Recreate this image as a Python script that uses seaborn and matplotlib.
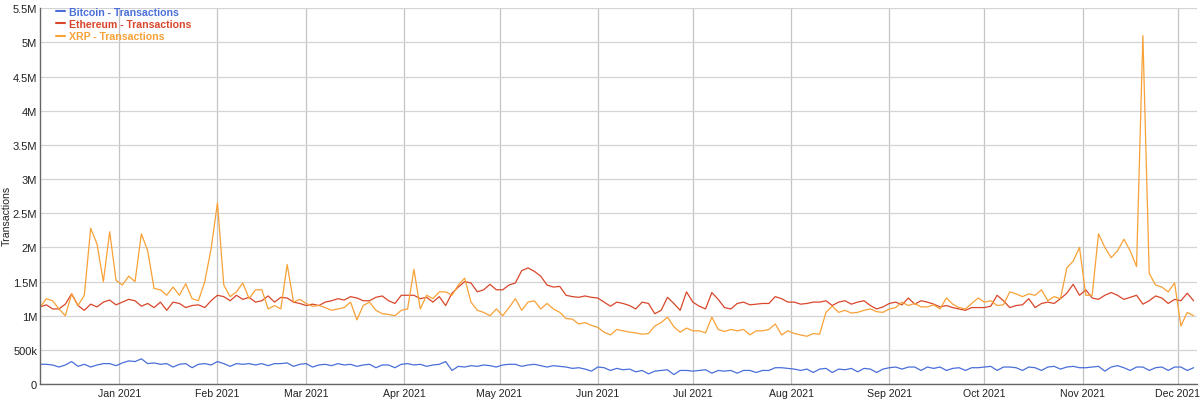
import pandas as pd
import seaborn as sns
import matplotlib.pyplot as plt
import matplotlib.dates as mdates
from matplotlib.ticker import FuncFormatter

# samples every 2 days, 2020-12-07 .. 2021-12-06 (values in millions)
dates = pd.date_range("2020-12-07", "2021-12-06", freq="2D")

btc = [
    0.29, 0.29, 0.28, 0.25, 0.28, 0.33, 0.26, 0.29, 0.25, 0.28, 0.30, 0.30, 0.27,  # Dec
    0.31, 0.34, 0.33, 0.37, 0.30, 0.31, 0.29, 0.30, 0.25, 0.29, 0.30, 0.24, 0.29, 0.30, 0.28,  # Jan
    0.33, 0.30, 0.26, 0.30, 0.29, 0.30, 0.28, 0.30, 0.27, 0.30, 0.30, 0.31, 0.26, 0.29,  # Feb
    0.30, 0.25, 0.28, 0.29, 0.27, 0.30, 0.28, 0.29, 0.26, 0.28, 0.29, 0.24, 0.28, 0.28, 0.24, 0.29,  # Mar
    0.30, 0.28, 0.29, 0.26, 0.28, 0.29, 0.33, 0.20, 0.26, 0.25, 0.27, 0.26, 0.28, 0.27, 0.25,  # Apr
    0.28, 0.29, 0.29, 0.26, 0.28, 0.29, 0.27, 0.25, 0.27, 0.26, 0.25, 0.23, 0.24, 0.22, 0.19,  # May
    0.25, 0.24, 0.20, 0.23, 0.21, 0.22, 0.18, 0.20, 0.15, 0.19, 0.20, 0.21, 0.14, 0.20, 0.20,  # Jun
    0.19, 0.20, 0.21, 0.16, 0.20, 0.19, 0.20, 0.16, 0.20, 0.20, 0.17, 0.20, 0.20, 0.24, 0.24, 0.23,  # Jul
    0.22, 0.20, 0.22, 0.17, 0.22, 0.23, 0.17, 0.22, 0.21, 0.23, 0.18, 0.23, 0.22, 0.17, 0.22,  # Aug
    0.24, 0.25, 0.22, 0.25, 0.25, 0.20, 0.25, 0.23, 0.25, 0.20, 0.23, 0.24, 0.20, 0.24, 0.24,  # Sep
    0.25, 0.26, 0.20, 0.25, 0.25, 0.24, 0.20, 0.25, 0.24, 0.20, 0.25, 0.26, 0.22, 0.25, 0.26, 0.24,  # Oct
    0.24, 0.25, 0.26, 0.19, 0.25, 0.27, 0.24, 0.20, 0.25, 0.25, 0.20, 0.24, 0.25, 0.20, 0.25,  # Nov
    0.25, 0.20, 0.24,  # Dec
]

eth = [
    1.13, 1.16, 1.10, 1.10, 1.17, 1.32, 1.15, 1.08, 1.17, 1.13, 1.20, 1.23, 1.16,
    1.20, 1.24, 1.22, 1.14, 1.18, 1.12, 1.20, 1.08, 1.20, 1.18, 1.12, 1.15, 1.16, 1.12, 1.22,
    1.30, 1.28, 1.22, 1.30, 1.24, 1.27, 1.20, 1.22, 1.29, 1.20, 1.27, 1.26, 1.20, 1.18,
    1.15, 1.17, 1.15, 1.20, 1.22, 1.25, 1.23, 1.28, 1.26, 1.22, 1.22, 1.27, 1.29, 1.22, 1.18, 1.30,
    1.30, 1.30, 1.25, 1.27, 1.20, 1.28, 1.15, 1.33, 1.42, 1.50, 1.48, 1.35, 1.38, 1.46, 1.38,
    1.38, 1.45, 1.48, 1.66, 1.70, 1.65, 1.58, 1.45, 1.42, 1.43, 1.30, 1.28, 1.27, 1.29, 1.27,
    1.26, 1.20, 1.14, 1.20, 1.18, 1.15, 1.10, 1.20, 1.18, 1.03, 1.08, 1.27, 1.18, 1.08, 1.35,
    1.20, 1.14, 1.10, 1.34, 1.24, 1.12, 1.10, 1.18, 1.20, 1.16, 1.17, 1.18, 1.18, 1.28, 1.25, 1.20,
    1.20, 1.17, 1.18, 1.20, 1.20, 1.22, 1.15, 1.20, 1.22, 1.17, 1.20, 1.22, 1.15, 1.10, 1.13,
    1.18, 1.20, 1.16, 1.26, 1.17, 1.22, 1.20, 1.17, 1.13, 1.15, 1.12, 1.10, 1.08, 1.12, 1.12,
    1.12, 1.14, 1.30, 1.22, 1.12, 1.15, 1.16, 1.25, 1.12, 1.18, 1.20, 1.18, 1.25, 1.33, 1.46, 1.30,
    1.38, 1.26, 1.24, 1.30, 1.34, 1.30, 1.24, 1.27, 1.30, 1.17, 1.22, 1.29, 1.26, 1.18, 1.24,
    1.22, 1.33, 1.22,
]

xrp = [
    1.12, 1.25, 1.22, 1.10, 1.00, 1.32, 1.15, 1.30, 2.28, 2.05, 1.50, 2.23, 1.52,
    1.45, 1.58, 1.50, 2.20, 1.95, 1.40, 1.38, 1.30, 1.42, 1.30, 1.47, 1.25, 1.22, 1.50, 1.98,
    2.65, 1.45, 1.28, 1.35, 1.48, 1.25, 1.38, 1.38, 1.10, 1.15, 1.10, 1.75, 1.20, 1.24,
    1.18, 1.14, 1.15, 1.12, 1.08, 1.10, 1.12, 1.20, 0.94, 1.15, 1.20, 1.08, 1.03, 1.02, 1.00, 1.08,
    1.10, 1.68, 1.10, 1.30, 1.25, 1.35, 1.35, 1.30, 1.45, 1.55, 1.20, 1.08, 1.05, 1.00, 1.10,
    1.00, 1.12, 1.25, 1.08, 1.20, 1.22, 1.10, 1.18, 1.10, 1.05, 0.96, 0.95, 0.88, 0.90, 0.86,
    0.83, 0.76, 0.72, 0.80, 0.78, 0.76, 0.75, 0.73, 0.74, 0.85, 0.90, 0.98, 0.84, 0.76, 0.82,
    0.78, 0.78, 0.75, 0.98, 0.80, 0.77, 0.80, 0.78, 0.80, 0.72, 0.78, 0.78, 0.80, 0.88, 0.72, 0.78,
    0.74, 0.72, 0.70, 0.74, 0.73, 1.05, 1.14, 1.05, 1.08, 1.04, 1.05, 1.08, 1.10, 1.06, 1.05,
    1.10, 1.12, 1.20, 1.15, 1.18, 1.13, 1.13, 1.16, 1.10, 1.26, 1.17, 1.12, 1.10, 1.18, 1.26,
    1.20, 1.22, 1.15, 1.16, 1.35, 1.32, 1.28, 1.32, 1.30, 1.38, 1.22, 1.28, 1.25, 1.70, 1.80, 2.00,
    1.30, 1.30, 2.20, 2.00, 1.85, 1.95, 2.12, 1.95, 1.72, 5.10, 1.62, 1.45, 1.42, 1.35, 1.48,
    0.85, 1.05, 1.00,
]

series_names = ["Bitcoin - Transactions", "Ethereum - Transactions", "XRP - Transactions"]
colors = ["#4a6fd9", "#d8472b", "#f8a137"]

df = pd.concat([
    pd.DataFrame({"Date": dates, "Value": [v * 1e6 for v in vals], "Series": name})
    for name, vals in zip(series_names, [btc, eth, xrp])
])

sns.set_style("white")
plt.rcParams['font.family'] = ['Liberation Sans', 'DejaVu Sans']

fig = plt.figure(figsize=(12, 4.02), dpi=100)
ax = fig.add_axes([0.0333, 0.042, 0.964, 0.935])

sns.lineplot(data=df, x="Date", y="Value", hue="Series", palette=colors,
             linewidth=0.9, ax=ax)

ax.set_xlim(pd.Timestamp("2020-12-07"), pd.Timestamp("2021-12-07"))
ax.set_ylim(0, 5.5e6)
ax.set_yticks([i * 5e5 for i in range(12)])


def fmt_y(v, pos):
    if v == 0:
        return "0"
    if v < 1e6:
        return f"{v / 1e3:g}k"
    return f"{v / 1e6:g}M"


ax.yaxis.set_major_formatter(FuncFormatter(fmt_y))
ax.xaxis.set_major_locator(mdates.MonthLocator())
ax.xaxis.set_major_formatter(mdates.DateFormatter("%b %Y"))

ax.grid(axis="y", color="#d4d4d4", linewidth=0.9)
ax.grid(axis="x", color="#c4c4c4", linewidth=0.9)
ax.set_axisbelow(True)
ax.tick_params(axis="x", length=0, labelsize=7.6, colors="#222222", pad=3)
ax.tick_params(axis="y", length=0, labelsize=8, colors="#222222", pad=2)

for side in ["top", "right"]:
    ax.spines[side].set_visible(False)
for side in ["left", "bottom"]:
    ax.spines[side].set_color("#666666")
    ax.spines[side].set_linewidth(1)

ax.set_xlabel("")
ax.set_ylabel("Transactions", fontsize=7.6, color="#222222")
ax.yaxis.set_label_coords(-0.0245, 0.45)

leg = ax.legend(loc="upper left", bbox_to_anchor=(0.008, 1.02), frameon=False,
                handlelength=0.9, handletextpad=0.4, labelspacing=0.2,
                prop={"size": 7.6, "weight": "bold"}, borderaxespad=0.2)
for text, c in zip(leg.get_texts(), colors):
    text.set_color(c)
for line in leg.get_lines():
    line.set_linewidth(1.5)

fig.savefig("out.png", dpi=100)
